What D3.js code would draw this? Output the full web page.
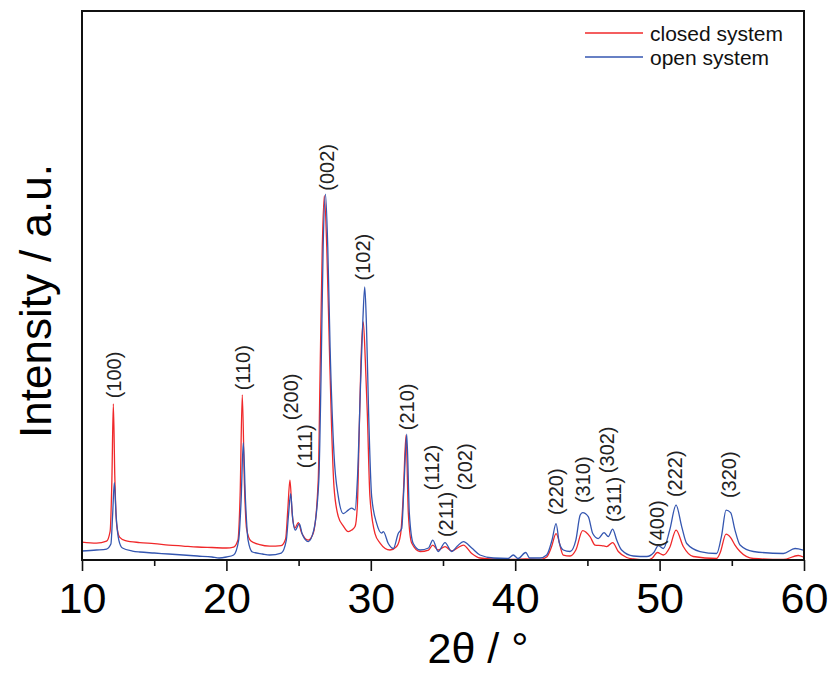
<!DOCTYPE html>
<html>
<head>
<meta charset="utf-8">
<script src="https://cdn.jsdelivr.net/npm/d3@7"></script>
<style>
  html, body { margin: 0; padding: 0; background: #fff; }
  svg { display: block; font-family: "Liberation Sans", Arial, sans-serif; }
</style>
</head>
<body>
<svg id="chart" width="832" height="673"></svg>
<script>
// XRD patterns: [2θ (°), intensity (a.u.)]
const closedSystem = [
  [10.00,36],[11.00,34],[11.70,38],[11.95,58],[12.07,160],[12.17,313],[12.27,170],[12.40,72],
  [12.60,46],[13.00,39],[14.00,35],[15.00,33],[16.00,30],[17.00,28],[18.00,26],[19.00,25],
  [20.00,24],[20.50,26],[20.80,40],[20.95,130],[21.10,331],[21.25,150],[21.40,62],[21.70,38],
  [22.30,31],[23.00,28],[23.80,29],[24.10,42],[24.25,100],[24.40,160],[24.55,95],[24.75,64],
  [24.98,75],[25.20,55],[25.67,40],[26.02,54],[26.36,160],[26.48,360],[26.64,627],[26.78,730],
  [26.95,627],[27.13,427],[27.29,260],[27.45,147],[27.75,87],[28.10,68],[28.44,57],[28.68,60],
  [28.91,67],[29.07,110],[29.20,260],[29.32,400],[29.48,477],[29.62,400],[29.76,293],[29.94,127],
  [30.29,53],[30.64,34],[31.33,20],[31.79,27],[32.07,53],[32.25,130],[32.44,250],[32.60,93],
  [32.83,34],[33.41,17],[34.00,20],[34.29,30],[34.67,20],[35.14,27],[35.60,18],[36.00,24],
  [36.41,30],[36.99,13],[37.56,4],[38.50,2],[39.87,1],[40.73,2],[41.72,1],[42.18,6],
  [42.50,25],[42.83,53],[43.33,10],[43.80,8],[44.20,20],[44.67,59],[45.18,47],[45.53,30],
  [45.99,29],[46.34,27],[46.75,35],[47.14,17],[47.72,5],[48.18,2],[49.11,0],[49.50,4],
  [49.84,15],[50.26,10],[50.70,25],[51.14,60],[51.64,27],[52.33,7],[53.95,3],[54.20,15],
  [54.60,52],[54.92,45],[55.22,30],[55.57,17],[56.49,3],[58.57,1],[59.60,9],[59.95,6]
];

const openSystem = [
  [10.00,18],[11.00,20],[11.70,22],[12.00,32],[12.12,90],[12.24,155],[12.36,90],[12.55,40],
  [12.80,24],[13.50,18],[14.00,16],[15.00,14],[16.00,12],[17.00,10],[18.00,8],[19.00,6],
  [19.50,4],[20.00,6],[20.50,10],[20.85,40],[21.02,120],[21.17,235],[21.32,120],[21.50,40],
  [21.80,16],[22.50,12],[23.00,10],[23.80,14],[24.15,40],[24.30,90],[24.45,133],[24.60,80],
  [24.78,60],[25.05,73],[25.25,52],[25.67,37],[26.05,60],[26.40,160],[26.55,360],[26.70,627],
  [26.86,733],[27.02,627],[27.18,427],[27.45,213],[27.75,127],[28.10,93],[28.44,100],[28.68,104],
  [28.91,100],[29.07,160],[29.30,360],[29.45,480],[29.58,547],[29.70,470],[29.85,293],[30.06,127],
  [30.41,73],[30.75,54],[30.87,57],[31.21,33],[31.56,23],[31.90,53],[32.14,63],[32.30,150],
  [32.49,252],[32.67,93],[32.94,33],[33.41,20],[34.00,24],[34.29,40],[34.67,17],[35.14,35],
  [35.60,17],[36.00,28],[36.41,37],[36.99,24],[37.56,10],[38.50,4],[39.50,3],[39.87,10],
  [40.20,3],[40.73,15],[41.00,4],[41.72,4],[42.18,10],[42.55,40],[42.83,73],[43.05,35],
  [43.33,20],[43.80,17],[44.20,40],[44.50,90],[44.67,95],[45.06,87],[45.37,53],[45.75,43],
  [46.15,55],[46.45,47],[46.75,62],[47.03,40],[47.37,20],[48.18,8],[49.11,7],[49.60,15],
  [49.91,29],[50.26,23],[50.70,60],[51.14,110],[51.53,67],[51.88,33],[52.80,17],[53.95,13],
  [54.30,50],[54.60,100],[54.92,95],[55.22,60],[55.57,30],[56.49,17],[58.57,13],[59.38,23],
  [59.95,20]
];

// Reflection labels: Miller index, 2θ position, intensity level where the label starts
const reflectionNames = ["(100)","(110)","(200)","(111)","(002)","(102)","(210)","(112)","(211)",
                         "(202)","(220)","(310)","(302)","(311)","(400)","(222)","(320)"];
const reflectionTheta = [12.22,21.15,24.47,25.44,26.97,29.46,32.51,34.24,35.21,
                         36.52,42.83,44.70,46.36,46.84,49.82,51.07,54.81];
const reflectionLevel = [324,340,280,184,740,560,260,140,46,
                         140,90,114,174,76,26,126,124];

const majorTicks = [10, 20, 30, 40, 50, 60];
const minorTicks = [15, 25, 35, 45, 55];

const seriesNames = ["closed system", "open system"];
const seriesColors = ["#f0282a", "#3456b0"];

const svg = d3.select("#chart");
const plotLeft = 82, plotRight = 804, plotTop = 11, plotBottom = 560;

const x = d3.scaleLinear().domain([10, 60]).range([plotLeft, plotRight]);
const y = d3.scaleLinear().domain([0, 1100]).range([plotBottom, plotTop]);

svg.append("defs").append("clipPath").attr("id", "plotClip")
  .append("rect").attr("x", plotLeft).attr("y", plotTop)
  .attr("width", plotRight - plotLeft).attr("height", plotBottom - plotTop);

const line = d3.line()
  .x(d => x(d[0]))
  .y(d => y(d[1]))
  .curve(d3.curveMonotoneX);

const plot = svg.append("g").attr("clip-path", "url(#plotClip)");
[closedSystem, openSystem].forEach((data, i) => {
  plot.append("path")
    .datum(data)
    .attr("d", line)
    .attr("fill", "none")
    .attr("stroke", seriesColors[i])
    .attr("stroke-width", 1.3)
    .attr("stroke-linejoin", "round");
});

// Miller index labels, rotated to read upward
svg.append("g").selectAll("text")
  .data(reflectionNames)
  .join("text")
  .attr("transform", (d, i) => `translate(${x(reflectionTheta[i])},${y(reflectionLevel[i])}) rotate(-90)`)
  .attr("dy", "0.35em")
  .attr("text-anchor", "start")
  .attr("font-size", 20)
  .attr("fill", "#222")
  .text(d => d);

// Bottom axis: major ticks with labels, minor ticks without
const xAxis = svg.append("g")
  .attr("transform", `translate(0,${plotBottom})`)
  .call(d3.axisBottom(x).tickValues(majorTicks).tickFormat(d3.format("d"))
    .tickSize(11).tickSizeOuter(0).tickPadding(11));
xAxis.select(".domain").remove();
xAxis.selectAll(".tick line").attr("stroke", "#111").attr("stroke-width", 1.6);
xAxis.selectAll(".tick text")
  .attr("font-size", 43)
  .attr("font-family", "Liberation Sans, Arial, sans-serif")
  .attr("fill", "#000");

const xMinor = svg.append("g")
  .attr("transform", `translate(0,${plotBottom})`)
  .call(d3.axisBottom(x).tickValues(minorTicks).tickFormat("").tickSize(6).tickSizeOuter(0));
xMinor.select(".domain").remove();
xMinor.selectAll(".tick line").attr("stroke", "#111").attr("stroke-width", 1.6);

// Frame
svg.append("rect")
  .attr("x", plotLeft).attr("y", plotTop)
  .attr("width", plotRight - plotLeft).attr("height", plotBottom - plotTop)
  .attr("fill", "none")
  .attr("stroke", "#111")
  .attr("stroke-width", 2);

// Axis titles
svg.append("text")
  .attr("x", 478).attr("y", 663)
  .attr("text-anchor", "middle")
  .attr("font-size", 43)
  .attr("fill", "#000")
  .text("2θ / °");

svg.append("text")
  .attr("transform", "translate(51,301) rotate(-90)")
  .attr("text-anchor", "middle")
  .attr("font-size", 44)
  .attr("fill", "#000")
  .text("Intensity / a.u.");

// Legend
const legend = svg.append("g");
const legendY = [33, 57];
seriesNames.forEach((name, i) => {
  legend.append("line")
    .attr("x1", 585).attr("x2", 643)
    .attr("y1", legendY[i]).attr("y2", legendY[i])
    .attr("stroke", seriesColors[i])
    .attr("stroke-width", 1.3);
  legend.append("text")
    .attr("x", 650).attr("y", legendY[i] + 7.5)
    .attr("font-size", 21)
    .attr("fill", "#111")
    .text(name);
});
</script>
</body>
</html>
